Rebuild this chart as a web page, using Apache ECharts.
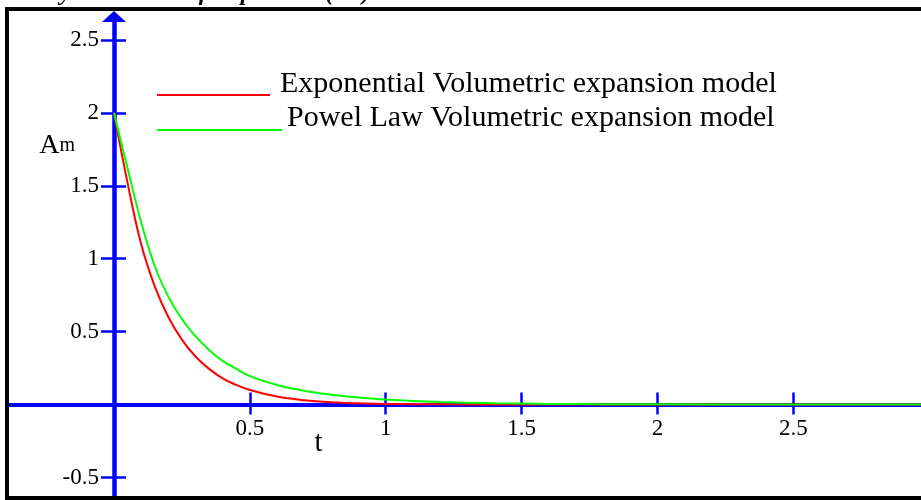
<!DOCTYPE html>
<html>
<head>
<meta charset="utf-8">
<title>Volumetric expansion models</title>
<script src="https://cdn.jsdelivr.net/npm/echarts@6/dist/echarts.min.js"></script>
<style>
    html, body { margin: 0; padding: 0; background: #fff; }
    #chart { width: 921px; height: 500px; }
</style>
</head>
<body>
<div id="chart"></div>
<script>
    // t values
    var tVals = [0, 0.05, 0.1, 0.15, 0.2, 0.25, 0.3, 0.35, 0.4, 0.45, 0.5, 0.6, 0.7, 0.8, 0.9, 1.0, 1.1, 1.2, 1.4, 1.6, 1.8, 2.0, 2.5, 3.0];
    // Am, exponential model (red)
    var expVals = [2.0, 1.52, 1.10, 0.81, 0.60, 0.445, 0.33, 0.245, 0.18, 0.135, 0.10, 0.055, 0.03, 0.016, 0.009, 0.005, 0.003, 0.002, 0.001, 0.0005, 0, 0, 0, 0];
    // Am, power law model (green)
    var powVals = [2.0, 1.62, 1.25, 0.95, 0.74, 0.585, 0.47, 0.375, 0.30, 0.245, 0.195, 0.135, 0.095, 0.068, 0.048, 0.035, 0.025, 0.018, 0.01, 0.005, 0.003, 0.002, 0.001, 0.0005];
    var xTicks = [0.5, 1, 1.5, 2, 2.5];
    var yTicks = [-0.5, 0.5, 1, 1.5, 2, 2.5];

    var expName = 'Exponential Volumetric expansion model';
    var powName = 'Powel Law Volumetric expansion model';

    function pairs(xs, ys) {
        var out = [];
        for (var i = 0; i < xs.length; i++) {
            out.push([xs[i], ys[i]]);
        }
        return out;
    }

    var serif = 'Liberation Serif';
    var blue = '#0000ff';
    var xMin = -0.39, xMax = 2.97;
    var yMin = -0.64, yMax = 2.66;

    var myChart = echarts.init(document.getElementById('chart'));

    var option = {
        animation: false,
        backgroundColor: '#fff',
        title: {
            text: '{b|Volumetry Parameter of Expansion (A}{s|m}{b|)}',
            right: 551,
            top: -18,
            padding: 0,
            textStyle: {
                rich: {
                    b: {fontFamily: serif, fontSize: 24, fontWeight: 'bold', fontStyle: 'italic', color: '#000'},
                    s: {fontFamily: serif, fontSize: 16, fontWeight: 'bold', fontStyle: 'italic', color: '#000'}
                }
            }
        },
        legend: [
            {
                // sample line sits on the text baseline, like an underscore
                data: [expName],
                left: 157,
                top: 69,
                padding: 0,
                icon: 'path://M118,0L118,0Z M0,22L113,22L113,24L0,24Z',
                itemWidth: 118,
                itemHeight: 24,
                itemStyle: {borderWidth: 0},
                textStyle: {fontFamily: serif, fontSize: 30, color: '#000'}
            },
            {
                data: [powName],
                left: 157,
                top: 103,
                padding: 0,
                icon: 'path://M125,0L125,0Z M0,24L125,24L125,26L0,26Z',
                itemWidth: 125,
                itemHeight: 26,
                itemStyle: {borderWidth: 0},
                textStyle: {fontFamily: serif, fontSize: 30, color: '#000'}
            }
        ],
        grid: {left: 8, right: 0, top: 16.5, bottom: 2, containLabel: false},
        xAxis: [
            {
                type: 'value',
                min: xMin,
                max: xMax,
                position: 'bottom',
                offset: -93.4,
                axisLine: {onZero: false, lineStyle: {color: blue, width: 4}},
                axisTick: {show: true, length: 10, customValues: xTicks, lineStyle: {color: blue, width: 2.5}},
                axisLabel: {customValues: xTicks, margin: 13, fontFamily: serif, fontSize: 23, color: '#000'},
                splitLine: {show: false},
                name: 't',
                nameLocation: 'middle',
                nameGap: 24,
                nameMoveOverlap: false,
                nameTextStyle: {fontFamily: serif, fontSize: 29, color: '#000', padding: [0, 292, 0, 0]}
            },
            {
                type: 'value',
                min: xMin,
                max: xMax,
                position: 'top',
                offset: -388.1,
                axisLine: {show: false, onZero: false},
                axisTick: {show: true, length: 12, customValues: xTicks, lineStyle: {color: blue, width: 2.5}},
                axisLabel: {show: false},
                splitLine: {show: false}
            }
        ],
        yAxis: [
            {
                type: 'value',
                min: yMin,
                max: yMax,
                position: 'left',
                offset: -106,
                axisLine: {
                    onZero: false,
                    symbol: ['none', 'triangle'],
                    symbolSize: [24, 11],
                    lineStyle: {color: blue, width: 4.5}
                },
                axisTick: {show: true, length: 13, customValues: yTicks, lineStyle: {color: blue, width: 2.5}},
                axisLabel: {customValues: yTicks, margin: 15, fontFamily: serif, fontSize: 23, color: '#000'},
                splitLine: {show: false},
                name: '{a|A}{m|m}',
                nameLocation: 'middle',
                nameRotate: 0,
                nameGap: 39,
                nameMoveOverlap: false,
                nameTextStyle: {
                    padding: [0, 0, 224, 0],
                    rich: {
                        a: {fontFamily: serif, fontSize: 28, color: '#000'},
                        m: {fontFamily: serif, fontSize: 20, color: '#000'}
                    }
                }
            },
            {
                type: 'value',
                min: yMin,
                max: yMax,
                position: 'right',
                offset: -807,
                axisLine: {show: false, onZero: false},
                axisTick: {show: true, length: 12, customValues: yTicks, lineStyle: {color: blue, width: 2.5}},
                axisLabel: {show: false},
                splitLine: {show: false}
            }
        ],
        graphic: [
            {
                type: 'rect',
                z: 100,
                silent: true,
                shape: {x: 7, y: 9, width: 1000, height: 489},
                style: {fill: 'none', stroke: '#000', lineWidth: 4}
            }
        ],
        series: [
            {
                name: expName,
                type: 'line',
                data: pairs(tVals, expVals),
                showSymbol: false,
                symbol: 'none',
                smooth: 0.4,
                color: '#ff0000',
                lineStyle: {color: '#ff0000', width: 2}
            },
            {
                name: powName,
                type: 'line',
                data: pairs(tVals, powVals),
                showSymbol: false,
                symbol: 'none',
                smooth: 0.4,
                color: '#00ff00',
                lineStyle: {color: '#00ff00', width: 2}
            }
        ]
    };
    myChart.setOption(option);
</script>
</body>
</html>
